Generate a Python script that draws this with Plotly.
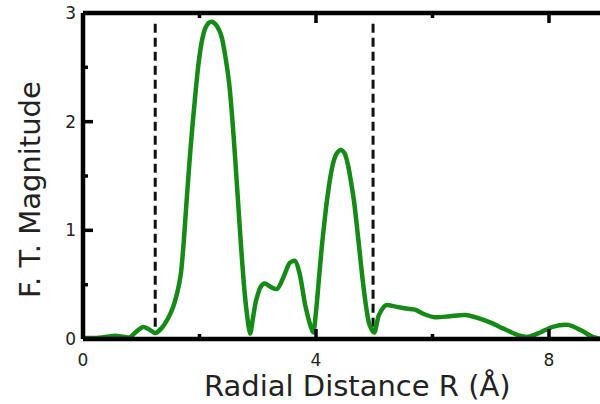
import plotly.graph_objects as go

# Radial distance (Å) and FT magnitude
r_values = [0.0, 0.2, 0.4, 0.55, 0.7, 0.8, 0.9, 1.03, 1.13, 1.24, 1.35, 1.47, 1.55, 1.62,
            1.68, 1.73, 1.78, 1.85, 1.92, 1.98, 2.04, 2.1, 2.16, 2.21, 2.27, 2.33, 2.38, 2.45,
            2.51, 2.56, 2.61, 2.66, 2.71, 2.76, 2.81, 2.87,
            2.92, 2.97, 3.05, 3.12, 3.22, 3.33, 3.45, 3.55, 3.64, 3.72, 3.82, 3.95,
            4.0, 4.05, 4.1, 4.15, 4.19, 4.25, 4.3, 4.36, 4.43, 4.49, 4.55, 4.6, 4.65,
            4.7, 4.75, 4.8, 4.86, 4.92, 5.0,
            5.08, 5.2, 5.35, 5.55, 5.7, 5.85, 6.04, 6.3, 6.56, 6.8, 7.0, 7.2, 7.36,
            7.5, 7.64, 7.85, 8.05, 8.33, 8.55, 8.75, 8.9]
ft_magnitude = [0.01, 0.01, 0.02, 0.03, 0.02, 0.015, 0.06, 0.11, 0.09, 0.055, 0.1, 0.2, 0.3, 0.43,
                0.6, 0.9, 1.28, 1.78, 2.2, 2.52, 2.74, 2.86, 2.91, 2.92, 2.9, 2.85, 2.78, 2.58,
                2.35, 2.05, 1.68, 1.28, 0.88, 0.52, 0.25, 0.05,
                0.2, 0.35, 0.48, 0.51, 0.48, 0.46, 0.58, 0.7, 0.72, 0.6, 0.3, 0.06,
                0.25, 0.55, 0.85, 1.1, 1.28, 1.5, 1.63, 1.71, 1.74, 1.71, 1.6, 1.45, 1.28,
                1.05, 0.8, 0.55, 0.3, 0.13, 0.06,
                0.22, 0.31, 0.3, 0.28, 0.27, 0.23, 0.2, 0.21, 0.22, 0.19, 0.15, 0.1, 0.06,
                0.03, 0.02, 0.06, 0.11, 0.13, 0.08, 0.02, 0.0]

# Fitting window boundaries (dashed lines)
window_r = [1.24, 4.98]
window_top = 2.9
window_bottom = 0.1

x_tick_vals = [0, 4, 8]
x_minor_vals = [2, 6]
y_tick_vals = [0, 1, 2, 3]
y_minor_vals = [0.5, 1.5, 2.5]

x_title = "Radial Distance R (Å)"
y_title = "F. T. Magnitude"

W, H = 600, 404
ML, MR, MT, MB = 83, 0, 13, 65
x_range = [0, 8.876]
y_range = [0, 3]

fig = go.Figure()

for xr in window_r:
    fig.add_trace(go.Scatter(
        x=[xr, xr], y=[window_top, window_bottom], mode="lines",
        line=dict(color="#111111", width=3, dash="9px,5px"),
        hoverinfo="skip", showlegend=False))

fig.add_trace(go.Scatter(
    x=r_values, y=ft_magnitude, mode="lines",
    line=dict(color="#168a16", width=4.5, shape="spline", smoothing=0.8),
    showlegend=False))

FONT = "DejaVu Sans"
axis_common = dict(
    showline=False, ticks="", showgrid=False, zeroline=False,
    tickfont=dict(family=FONT, size=17, color="#222222"),
)
fig.update_xaxes(range=x_range, tickvals=x_tick_vals, ticklabelstandoff=9, **axis_common)
fig.update_yaxes(range=y_range, tickvals=y_tick_vals, ticklabelstandoff=6, **axis_common)

plot_w = W - ML - MR
plot_h = H - MT - MB

# frame drawn as shapes (left, bottom, top)
frame = dict(color="black", width=4.5)
fig.add_shape(type="line", xref="paper", yref="paper", x0=0, x1=0, y0=0, y1=1, line=frame)
fig.add_shape(type="line", xref="paper", yref="paper", x0=0, x1=1, y0=0, y1=0, line=frame)
fig.add_shape(type="line", xref="paper", yref="paper", x0=0, x1=1, y0=1, y1=1, line=frame)

# inside ticks (bottom and top for x, left for y)
MAJ, MIN = 10, 5
tick_line = dict(color="black", width=3.5)
for vals, ln in ((x_tick_vals, MAJ), (x_minor_vals, MIN)):
    for v in vals:
        fig.add_shape(type="line", xref="x", yref="paper", x0=v, x1=v,
                      y0=0, y1=ln / plot_h, line=tick_line)
        fig.add_shape(type="line", xref="x", yref="paper", x0=v, x1=v,
                      y0=1, y1=1 - ln / plot_h, line=tick_line)
for vals, ln in ((y_tick_vals, MAJ), (y_minor_vals, MIN)):
    for v in vals:
        fig.add_shape(type="line", xref="paper", yref="y", x0=0, x1=ln / plot_w,
                      y0=v, y1=v, line=tick_line)

def px_to_paper_x(px):
    return (px - ML) / plot_w

def px_to_paper_y(py):
    return (H - MB - py) / plot_h

fig.add_annotation(text=x_title, xref="paper", yref="paper",
                   x=px_to_paper_x(357), y=px_to_paper_y(386),
                   xanchor="center", yanchor="middle", showarrow=False,
                   font=dict(family=FONT, size=29, color="#222222"))
fig.add_annotation(text=y_title, xref="paper", yref="paper", textangle=-90,
                   x=px_to_paper_x(30), y=px_to_paper_y(190),
                   xanchor="center", yanchor="middle", showarrow=False,
                   font=dict(family=FONT, size=29, color="#222222"))

fig.update_layout(
    width=W, height=H,
    margin=dict(l=ML, r=MR, t=MT, b=MB, pad=0),
    paper_bgcolor="white", plot_bgcolor="white",
    showlegend=False,
)

fig.write_html("out.html")
